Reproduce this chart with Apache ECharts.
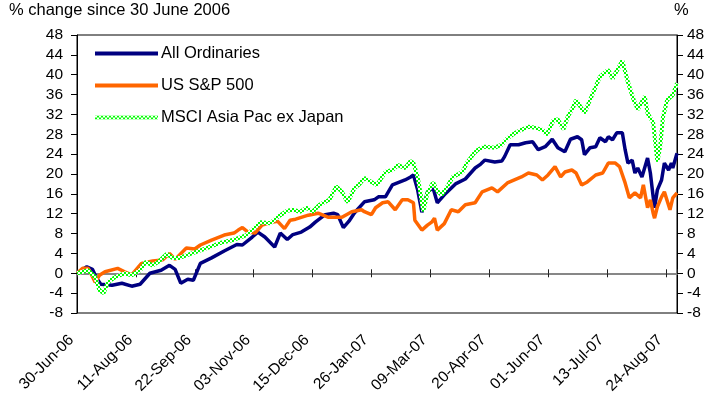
<!DOCTYPE html>
<html lang="en">
<head>
  <meta charset="UTF-8" />
  <title>% change since 30 June 2006</title>
  <style>
    * { padding: 0; margin: 0; }
    html, body { width: 100%; height: 100%; background: #fff; }
    #chart { width: 715px; height: 398px; }
  </style>
</head>
<body>
  <div id="chart"></div>
  <script src="https://cdn.jsdelivr.net/npm/echarts@6/dist/echarts.min.js"></script>
  <script>
    // x values are days since 30-Jun-06
    var tickLabels = ['30-Jun-06', '11-Aug-06', '22-Sep-06', '03-Nov-06', '15-Dec-06', '26-Jan-07',
      '09-Mar-07', '20-Apr-07', '01-Jun-07', '13-Jul-07', '24-Aug-07']
    var seriesNames = ['All Ordinaries', 'US S&P 500', 'MSCI Asia Pac ex Japan']

    var aordDays = [0, 7, 11, 14, 17, 25, 32, 39, 45, 52,
      60, 66, 70, 74, 79, 83, 88, 96, 105, 114,
      118, 125, 129, 134, 141, 145, 150, 154, 160, 166,
      170, 177, 183, 186, 190, 194, 198, 205, 212, 215,
      220, 225, 234, 238, 240, 243, 246, 250, 254, 257,
      262, 270, 277, 284, 288, 291, 298, 303, 305, 309,
      315, 320, 325, 329, 334, 339, 343, 348, 352, 357,
      360, 362, 366, 370, 373, 377, 379, 382, 385, 389,
      391, 393, 396, 398, 400, 403, 407, 409, 411, 412,
      414, 417, 419, 422, 424, 425, 428]
    var aordVals = [0, 1.3, 0.8, -1.0, -2.2, -2.4, -2.0, -2.6, -2.2, 0,
      0.6, 1.6, 0.8, -2.0, -1.2, -1.4, 2.0, 3.1, 4.5, 5.8,
      5.7, 7.3, 8.3, 7.3, 5.3, 8.1, 6.8, 7.8, 8.3, 9.3,
      10.3, 11.8, 12.1, 11.8, 9.2, 10.5, 12.2, 14.4, 14.8, 15.4,
      15.4, 17.8, 18.8, 19.4, 19.8, 16.8, 12.3, 16.4, 17.2, 14.2,
      15.8, 18.0, 19.0, 21.2, 22.0, 22.8, 22.4, 22.6, 23.5, 25.9,
      25.9, 26.3, 26.5, 24.9, 25.5, 27.0, 25.3, 24.5, 27.0, 27.5,
      26.9, 23.9, 25.3, 25.5, 27.3, 26.5, 27.5, 26.9, 28.3, 28.3,
      24.9, 22.2, 22.8, 20.2, 21.2, 19.4, 23.2, 20.2, 15.4, 13.2,
      16.8, 18.8, 22.2, 20.8, 22.2, 21.2, 24.2]

    var spxDays = [0, 4, 8, 13, 16, 20, 29, 34, 39, 46,
      54, 61, 66, 70, 78, 84, 88, 96, 105, 112,
      115, 118, 122, 127, 132, 139, 143, 148, 152, 156,
      165, 172, 179, 189, 196, 203, 205, 210, 213, 218,
      222, 227, 232, 236, 240, 241, 246, 250, 253, 255,
      257, 262, 267, 272, 277, 284, 289, 296, 300, 307,
      312, 317, 322, 328, 332, 336, 341, 345, 348, 353,
      356, 360, 364, 370, 375, 379, 384, 387, 391, 394,
      398, 402, 404, 407, 409, 411, 412, 414, 417, 419,
      423, 425, 428]
    var spxVals = [0, 1.0, 1.0, -1.8, -0.4, 0.3, 1.0, 0.3, -0.3, 2.0,
      2.5, 2.7, 4.0, 2.8, 5.1, 4.9, 5.7, 6.7, 7.7, 8.1,
      8.7, 9.2, 8.3, 8.1, 9.7, 10.3, 10.5, 9.0, 10.7, 10.9,
      11.7, 12.1, 11.3, 11.3, 12.4, 12.8, 12.4, 11.8, 13.2, 14.2,
      14.4, 12.8, 14.8, 14.8, 14.2, 10.7, 8.7, 9.7, 10.3, 11.1,
      8.7, 10.0, 12.8, 12.4, 13.8, 14.2, 16.4, 17.2, 16.4, 18.2,
      18.8, 19.4, 20.2, 19.8, 18.8, 19.8, 21.5, 19.4, 20.4, 20.8,
      20.2, 17.8, 18.4, 19.8, 20.2, 22.2, 22.2, 21.5, 18.2, 15.2,
      16.2, 15.2, 17.8, 13.2, 14.8, 12.1, 11.1, 13.4, 15.4, 16.4,
      12.8, 15.2, 16.2]

    var msciDays = [0, 8, 13, 16, 19, 22, 27, 34, 39, 45,
      49, 54, 58, 64, 68, 73, 83, 93, 102, 111,
      121, 131, 138, 143, 150, 154, 159, 164, 168, 173,
      180, 185, 189, 193, 198, 201, 205, 210, 214, 220,
      225, 229, 234, 238, 240, 243, 245, 247, 250, 254,
      257, 260, 264, 268, 275, 278, 283, 286, 291, 298,
      303, 307, 312, 317, 322, 327, 332, 335, 340, 343,
      347, 350, 354, 356, 362, 367, 373, 379, 382, 389,
      393, 397, 400, 405, 407, 411, 414, 416, 418, 421,
      425, 428]
    var msciVals = [0, 0.6, -0.8, -3.4, -4.0, -1.8, -0.8, 0, -0.4, 0.6,
      2.3, 1.6, 2.3, 3.9, 3.1, 3.1, 4.1, 5.1, 6.1, 6.7,
      7.7, 10.3, 10.1, 11.3, 12.6, 12.8, 12.4, 13.2, 12.4, 13.8,
      14.8, 17.5, 16.4, 14.3, 17.2, 17.8, 19.2, 18.4, 17.8, 20.4,
      20.8, 21.8, 21.2, 22.6, 22.2, 19.4, 16.2, 12.5, 16.2, 18.3,
      16.6, 15.8, 17.4, 19.4, 20.4, 22.2, 24.1, 24.9, 25.5, 25.3,
      25.9, 27.2, 28.2, 28.9, 29.5, 29.3, 28.9, 27.9, 30.9, 31.0,
      29.0, 31.5, 33.5, 34.9, 32.3, 35.6, 39.6, 41.0, 39.2, 42.8,
      38.5, 35.0, 33.0, 35.6, 32.3, 30.3, 22.5, 25.5, 31.5, 34.9,
      35.9, 38.3]

    function pairs(days, vals) {
      return days.map(function (d, i) { return [d, vals[i]] })
    }

    // green/white checker used by Excel for the MSCI line
    var cv = document.createElement('canvas')
    cv.width = 4
    cv.height = 4
    var cx = cv.getContext('2d')
    cx.fillStyle = '#ffffff'
    cx.fillRect(0, 0, 4, 4)
    cx.fillStyle = '#00ff00'
    cx.fillRect(0, 0, 2, 2)
    cx.fillRect(2, 2, 2, 2)
    var checker = { image: cv, repeat: 'repeat' }

    var font = 'Liberation Sans, Arial, sans-serif'
    var myChart = echarts.init(document.getElementById('chart'))

    var yAxisBase = {
      type: 'value',
      min: -8,
      max: 48,
      interval: 4,
      splitLine: { show: false },
      axisLine: { show: true, onZero: false, lineStyle: { color: '#000', width: 1 } },
      axisTick: { show: true, length: 6, lineStyle: { color: '#000' } },
      axisLabel: { color: '#000', fontSize: 15.5, fontFamily: font }
    }

    var xAxisBase = {
      type: 'value',
      min: 0,
      max: 428,
      interval: 42,
      splitLine: { show: false },
      axisLine: { show: true, onZero: true, lineStyle: { color: '#808080', width: 1.5 } },
      axisTick: { show: true, length: 4, lineStyle: { color: '#202020' } }
    }

    var option = {
      animation: false,
      backgroundColor: '#fff',
      title: [
        {
          text: '% change since 30 June 2006',
          left: 9,
          top: 2,
          padding: 0,
          textStyle: { fontSize: 16.5, fontWeight: 'normal', color: '#000', fontFamily: font }
        },
        {
          text: '%',
          left: 674,
          top: 2,
          padding: 0,
          textStyle: { fontSize: 16.5, fontWeight: 'normal', color: '#000', fontFamily: font }
        }
      ],
      grid: {
        left: 77,
        right: 38,
        top: 35,
        bottom: 85,
        outerBoundsMode: 'none',
        containLabel: false,
        show: true,
        borderColor: '#000',
        borderWidth: 1
      },
      legend: {
        orient: 'vertical',
        left: 93,
        top: 45,
        itemWidth: 63,
        itemHeight: 16,
        itemGap: 15,
        padding: 0,
        itemStyle: { color: 'rgba(0,0,0,0)', borderWidth: 0, opacity: 0 },
        lineStyle: { width: 4 },
        textStyle: { fontSize: 16.5, color: '#000', fontFamily: font, padding: [0, 0, 0, -2] },
        data: [
          { name: seriesNames[0] },
          { name: seriesNames[1] },
          { name: seriesNames[2] }
        ]
      },
      xAxis: [
        Object.assign({}, xAxisBase, {
          position: 'bottom',
          axisLine: Object.assign({}, xAxisBase.axisLine, { onZeroAxisIndex: 0 }),
          axisLabel: {
            rotate: 45,
            margin: 19,
            padding: [0, 8, 0, 0],
            color: '#000',
            fontSize: 15.5,
            fontFamily: font,
            showMaxLabel: false,
            formatter: function (v) {
              var i = Math.round(v / 42)
              return (v % 42 === 0 && tickLabels[i]) ? tickLabels[i] : ''
            }
          }
        }),
        Object.assign({}, xAxisBase, {
          position: 'top',
          axisLine: Object.assign({}, xAxisBase.axisLine, { onZeroAxisIndex: 1 }),
          axisLabel: { show: false }
        })
      ],
      yAxis: [
        Object.assign({}, yAxisBase, {
          position: 'left',
          axisLabel: Object.assign({}, yAxisBase.axisLabel, { margin: 14 })
        }),
        Object.assign({}, yAxisBase, {
          position: 'right',
          axisLabel: Object.assign({}, yAxisBase.axisLabel, { margin: 10 })
        })
      ],
      series: [
        {
          name: seriesNames[0],
          type: 'line',
          symbol: 'none',
          data: pairs(aordDays, aordVals),
          lineStyle: { color: '#000080', width: 3.5 },
          itemStyle: { color: '#000080' }
        },
        {
          name: seriesNames[1],
          type: 'line',
          symbol: 'none',
          data: pairs(spxDays, spxVals),
          lineStyle: { color: '#ff6600', width: 3.5 },
          itemStyle: { color: '#ff6600' }
        },
        {
          name: seriesNames[2],
          type: 'line',
          symbol: 'none',
          data: pairs(msciDays, msciVals),
          lineStyle: { color: checker, width: 4 },
          itemStyle: { color: checker }
        }
      ]
    }
    option && myChart.setOption(option)
  </script>
</body>
</html>
